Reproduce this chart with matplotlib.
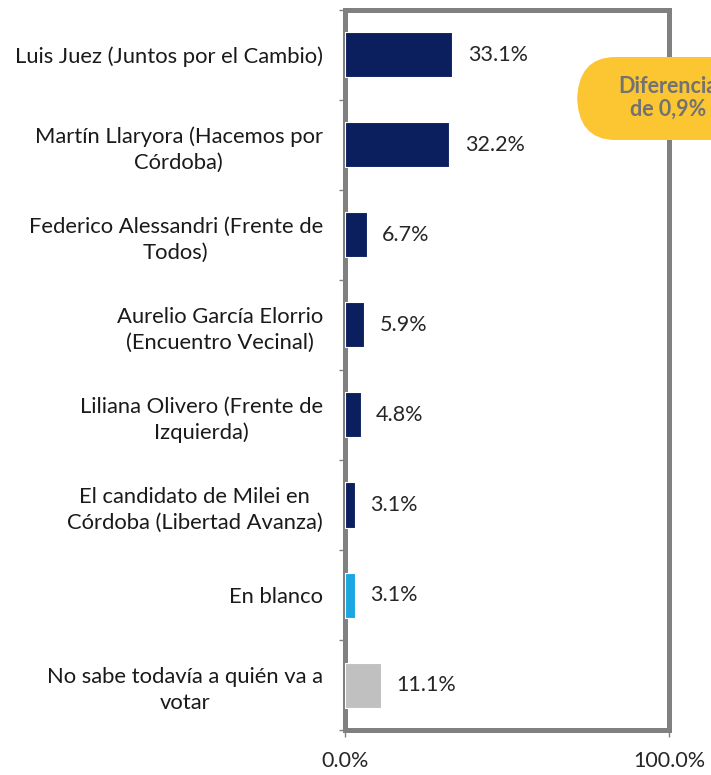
import matplotlib.pyplot as plt
from matplotlib.patches import FancyBboxPatch

labels = [
    "Luis Juez (Juntos por el Cambio)",
    "Martín Llaryora (Hacemos por\nCórdoba)",
    "Federico Alessandri (Frente de\nTodos)",
    "Aurelio García Elorrio\n(Encuentro Vecinal)",
    "Liliana Olivero (Frente de\nIzquierda)",
    "El candidato de Milei en\nCórdoba (Libertad Avanza)",
    "En blanco",
    "No sabe todavía a quién va a\nvotar",
]
values = [33.1, 32.2, 6.7, 5.9, 4.8, 3.1, 3.1, 11.1]
colors = ["#0b1f5e"] * 6 + ["#1aa7e2", "#c0c0c0"]

plt.rcParams["font.family"] = ["Lato", "DejaVu Sans"]

fig = plt.figure(figsize=(7.11, 7.75), dpi=100)
ax = fig.add_axes([345 / 711, 1 - 730 / 775, 324 / 711, 720 / 775])

ypos = list(range(len(values)))
ax.barh(ypos, values, height=0.5, color=colors, edgecolor="white", linewidth=0.8, zorder=3)
for y, v in zip(ypos, values):
    ax.text(v + 4.8, y, f"{v:.1f}%", va="center", ha="left",
            fontsize=15.5, color="#262626")

ax.set_xlim(0, 100)
ax.set_ylim(len(values) - 0.5, -0.5)
ax.set_yticks(ypos)
ax.set_yticklabels(labels, fontsize=15.8, color="#1a1a1a", ha="right",
                   multialignment="center", linespacing=1.35)
ax.tick_params(axis="y", length=0, pad=16)
ax.set_yticks([i + 0.5 for i in range(-1, len(values))], minor=True)
ax.tick_params(axis="y", which="minor", length=4, color="#808080", width=1)
ax.set_xticks([0, 100])
ax.set_xticklabels(["0.0%", "100.0%"], fontsize=15.5, color="#262626")
ax.tick_params(axis="x", length=5, color="#808080", width=1, pad=10)
for s in ax.spines.values():
    s.set_color("#808080")
    s.set_linewidth(3.6)

# yellow badge, clipped at the figure edge like the reference
badge = FancyBboxPatch((577 / 711, 1 - 140 / 775), 200 / 711, 83 / 775,
                       boxstyle="round,pad=0,rounding_size=0.054",
                       transform=fig.transFigure, facecolor="#fcc632",
                       edgecolor="none", zorder=5, mutation_aspect=775 / 711)
fig.patches.append(badge)
fig.text(668 / 711, 1 - 98 / 775, "Diferencia\nde 0,9%", ha="center", va="center",
         fontsize=15.5, fontweight="bold", color="#727272", linespacing=1.1,
         zorder=6)

fig.savefig("out.png", dpi=100)
